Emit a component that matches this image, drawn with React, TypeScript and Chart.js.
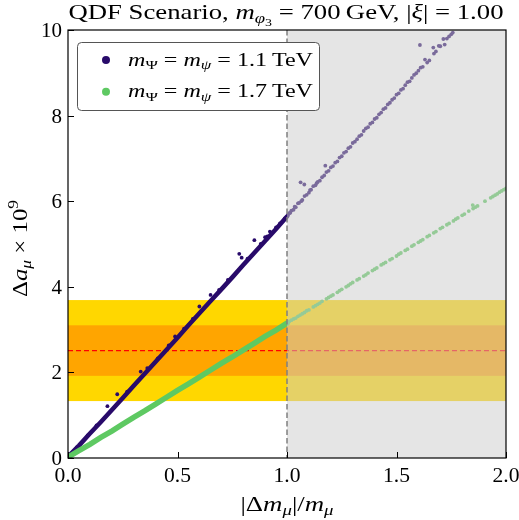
import { useEffect, useRef } from "react";
import { Chart, registerables } from "chart.js";

Chart.register(...registerables);

// Axis ticks
const xTicks = [0, 0.5, 1, 1.5, 2];
const xTickLabels = ["0.0", "0.5", "1.0", "1.5", "2.0"];
const yTicks = [0, 2, 4, 6, 8, 10];
const yTickLabels = ["0", "2", "4", "6", "8", "10"];

// Measured anomaly band (x 10^9) and excluded region start
const deltaCentral = 2.51;
const delta1Sigma = 0.59;
const delta2Sigma = 1.18;
const excludedFrom = 1.0;

// m_Psi = m_psi = 1.1 TeV: dense core for |dm|/m < 1
const purpleCore: [number, number][] = [
  [0.0, 0.03], [0.05, 0.29], [0.1, 0.57], [0.15, 0.84], [0.2, 1.12], [0.25, 1.4],
  [0.3, 1.69], [0.35, 1.97], [0.4, 2.25], [0.45, 2.53], [0.5, 2.81], [0.55, 3.1],
  [0.6, 3.38], [0.65, 3.66], [0.7, 3.94], [0.75, 4.22], [0.8, 4.51], [0.85, 4.79],
  [0.9, 5.07], [0.95, 5.35], [1.0, 5.64],
];

// m_Psi = m_psi = 1.1 TeV: scattered points below |dm|/m = 1
const purpleLow: [number, number][] = [
  [0.04, 0.25], [0.09, 0.53], [0.13, 0.76], [0.18, 1.21], [0.225, 1.49], [0.27, 1.55],
  [0.332, 2.02], [0.362, 2.1], [0.41, 2.33], [0.46, 2.63], [0.489, 2.84], [0.53, 3.02],
  [0.57, 3.25], [0.6, 3.54], [0.651, 3.81], [0.69, 3.93], [0.73, 4.16], [0.782, 4.77],
  [0.793, 4.68], [0.82, 4.66], [0.851, 5.09], [0.88, 5.0], [0.9, 5.16], [0.91, 5.18],
  [0.922, 5.29], [0.95, 5.39], [0.968, 5.48], [0.99, 5.6],
];

// m_Psi = m_psi = 1.1 TeV: points above |dm|/m = 1
const purpleHigh: [number, number][] = [
  [1.005, 5.68], [1.01, 5.72], [1.015, 5.73], [1.02, 5.78], [1.03, 5.8], [1.035, 5.87],
  [1.04, 5.86], [1.05, 5.95], [1.055, 5.96], [1.062, 6.44], [1.065, 6.0], [1.07, 6.03],
  [1.079, 6.39], [1.08, 6.12], [1.09, 6.15], [1.1, 6.2], [1.105, 6.26], [1.11, 6.27],
  [1.12, 6.35], [1.13, 6.37], [1.135, 6.42], [1.14, 6.45], [1.15, 6.48], [1.16, 6.56],
  [1.17, 6.6], [1.175, 6.83], [1.18, 6.68], [1.19, 6.71], [1.2, 6.79], [1.21, 6.82],
  [1.22, 6.9], [1.23, 6.93], [1.24, 7.02], [1.25, 7.05], [1.26, 7.13], [1.27, 7.16],
  [1.28, 7.24], [1.29, 7.27], [1.3, 7.36], [1.31, 7.39], [1.32, 7.45], [1.33, 7.52],
  [1.34, 7.55], [1.35, 7.64], [1.36, 7.7], [1.37, 7.73], [1.38, 7.81], [1.39, 7.84],
  [1.4, 7.92], [1.41, 7.95], [1.42, 8.03], [1.43, 8.07], [1.44, 8.15], [1.45, 8.18],
  [1.46, 8.26], [1.47, 8.3], [1.48, 8.37], [1.49, 8.41], [1.5, 8.49], [1.51, 8.52],
  [1.52, 8.6], [1.53, 8.63], [1.54, 8.71], [1.55, 8.78], [1.56, 8.8], [1.57, 8.88],
  [1.58, 8.95], [1.59, 8.99], [1.6, 9.05], [1.607, 9.65], [1.61, 9.12], [1.62, 9.14],
  [1.63, 9.31], [1.64, 9.24], [1.65, 9.29], [1.668, 9.59], [1.671, 9.45], [1.68, 9.5],
  [1.693, 9.63], [1.7, 9.62], [1.714, 9.79], [1.72, 9.66], [1.73, 9.8], [1.74, 9.85],
  [1.75, 9.9], [1.757, 9.94],
];

// m_Psi = m_psi = 1.7 TeV: dense core for |dm|/m < 1
const greenCore: [number, number][] = [
  [0.0, 0.02], [0.05, 0.17], [0.1, 0.32], [0.15, 0.48], [0.2, 0.63], [0.25, 0.79],
  [0.3, 0.95], [0.35, 1.1], [0.4, 1.26], [0.45, 1.42], [0.5, 1.58], [0.55, 1.73],
  [0.6, 1.89], [0.65, 2.05], [0.7, 2.21], [0.75, 2.36], [0.8, 2.52], [0.85, 2.68],
  [0.9, 2.84], [0.95, 2.99], [1.0, 3.15],
];

// m_Psi = m_psi = 1.7 TeV: points above |dm|/m = 1
const greenHigh: [number, number][] = [
  [1.01, 3.19], [1.02, 3.22], [1.03, 3.25], [1.04, 3.27], [1.05, 3.31], [1.06, 3.34],
  [1.07, 3.37], [1.08, 3.4], [1.09, 3.44], [1.1, 3.46], [1.12, 3.53], [1.13, 3.56],
  [1.14, 3.59], [1.15, 3.62], [1.16, 3.66], [1.18, 3.72], [1.19, 3.75], [1.2, 3.78],
  [1.21, 3.81], [1.23, 3.87], [1.24, 3.91], [1.25, 3.94], [1.27, 4.0], [1.28, 4.03],
  [1.29, 4.07], [1.3, 4.1], [1.32, 4.16], [1.33, 4.19], [1.35, 4.25], [1.36, 4.28],
  [1.37, 4.32], [1.39, 4.38], [1.4, 4.41], [1.41, 4.44], [1.43, 4.51], [1.44, 4.54],
  [1.45, 4.57], [1.47, 4.63], [1.48, 4.66], [1.5, 4.72], [1.51, 4.76], [1.52, 4.79],
  [1.54, 4.85], [1.55, 4.88], [1.57, 4.95], [1.58, 4.98], [1.6, 5.04], [1.61, 5.07],
  [1.62, 5.1], [1.64, 5.17], [1.65, 5.2], [1.67, 5.26], [1.68, 5.29], [1.7, 5.36],
  [1.71, 5.39], [1.73, 5.45], [1.74, 5.48], [1.76, 5.54], [1.77, 5.58], [1.78, 5.61],
  [1.8, 5.67], [1.81, 5.7], [1.83, 5.77], [1.848, 5.91], [1.85, 5.83], [1.86, 5.86],
  [1.87, 5.89], [1.904, 6.0], [1.93, 6.08], [1.94, 6.11], [1.95, 6.14], [1.96, 6.17],
  [1.97, 6.21], [1.98, 6.24], [1.99, 6.27], [2.0, 6.3],
];

const PURPLE = "#280a6a";
const GREEN = "#5ec962";
const FAMILY = "'Liberation Serif', 'DejaVu Serif', serif";

type Run = { t: string; it?: boolean; lv?: number };

function runSize(r: Run, size: number) {
  if (r.lv === 1 || r.lv === -1) return size * 0.7;
  if (r.lv === 2) return size * 0.52;
  return size;
}
function runDy(r: Run, size: number) {
  if (r.lv === 1) return size * 0.2;
  if (r.lv === 2) return size * 0.34;
  if (r.lv === -1) return -size * 0.42;
  return 0;
}
function setFont(ctx: CanvasRenderingContext2D, r: Run, size: number) {
  ctx.font = `${r.it ? "italic " : ""}${runSize(r, size)}px ${FAMILY}`;
}
function richWidth(ctx: CanvasRenderingContext2D, runs: Run[], size: number) {
  let w = 0;
  for (const r of runs) {
    setFont(ctx, r, size);
    w += ctx.measureText(r.t).width;
  }
  return w;
}
// Draws mixed roman/italic/sub/superscript text, optionally set to a given width
function drawRich(
  ctx: CanvasRenderingContext2D,
  runs: Run[],
  x: number,
  y: number,
  size: number,
  align: "left" | "center" | "right",
  width?: number
) {
  const natural = richWidth(ctx, runs, size);
  const w = width ?? natural;
  const sx = w / natural;
  const start = align === "center" ? x - w / 2 : align === "right" ? x - w : x;
  ctx.save();
  ctx.translate(start, y);
  ctx.scale(sx, 1);
  ctx.textAlign = "left";
  ctx.textBaseline = "alphabetic";
  let cx = 0;
  for (const r of runs) {
    setFont(ctx, r, size);
    ctx.fillText(r.t, cx, runDy(r, size));
    cx += ctx.measureText(r.t).width;
  }
  ctx.restore();
}

const titleRuns: Run[] = [
  { t: "QDF Scenario, " },
  { t: "m", it: true },
  { t: "φ", it: true, lv: 1 },
  { t: "3", lv: 2 },
  { t: " = 700\u2009GeV, " },
  { t: "|" },
  { t: "ξ", it: true },
  { t: "| = 1.00" },
];
const legendRuns = (mass: string): Run[] => [
  { t: "m", it: true },
  { t: "Ψ", lv: 1 },
  { t: " = " },
  { t: "m", it: true },
  { t: "ψ", it: true, lv: 1 },
  { t: ` = ${mass}\u2009TeV` },
];
const legendMasses = ["1.1", "1.7"];
const legendColors = [PURPLE, GREEN];
const xLabelRuns: Run[] = [
  { t: "|Δ" },
  { t: "m", it: true },
  { t: "μ", it: true, lv: 1 },
  { t: "|/" },
  { t: "m", it: true },
  { t: "μ", it: true, lv: 1 },
];
const yLabelRuns: Run[] = [
  { t: "Δ" },
  { t: "a", it: true },
  { t: "μ", it: true, lv: 1 },
  { t: " × 10" },
  { t: "9", lv: -1 },
];

const decor = {
  id: "decor",
  beforeDatasetsDraw(chart: any) {
    const { ctx, chartArea: a, scales } = chart;
    const y = scales.y;
    ctx.save();
    ctx.fillStyle = "#ffd700";
    const y2t = y.getPixelForValue(deltaCentral + delta2Sigma);
    const y2b = y.getPixelForValue(deltaCentral - delta2Sigma);
    ctx.fillRect(a.left, y2t, a.right - a.left, y2b - y2t);
    ctx.fillStyle = "#ffa500";
    const y1t = y.getPixelForValue(deltaCentral + delta1Sigma);
    const y1b = y.getPixelForValue(deltaCentral - delta1Sigma);
    ctx.fillRect(a.left, y1t, a.right - a.left, y1b - y1t);
    const yc = y.getPixelForValue(deltaCentral);
    ctx.strokeStyle = "#ff0000";
    ctx.lineWidth = 1.2;
    ctx.setLineDash([5, 3]);
    ctx.beginPath();
    ctx.moveTo(a.left, yc);
    ctx.lineTo(a.right, yc);
    ctx.stroke();
    ctx.restore();
  },
  afterDatasetsDraw(chart: any) {
    const { ctx, chartArea: a, scales } = chart;
    const xs = scales.x;
    const ys = scales.y;
    ctx.save();
    // excluded region shading
    const xe = xs.getPixelForValue(excludedFrom);
    ctx.fillStyle = "rgba(204,204,204,0.5)";
    ctx.fillRect(xe, a.top, a.right - xe, a.bottom - a.top);
    ctx.strokeStyle = "#808080";
    ctx.lineWidth = 1.5;
    ctx.setLineDash([5.5, 3]);
    ctx.beginPath();
    ctx.moveTo(xe, a.top);
    ctx.lineTo(xe, a.bottom);
    ctx.stroke();
    ctx.setLineDash([]);

    // frame and inward ticks
    ctx.strokeStyle = "#000";
    ctx.lineWidth = 1.2;
    ctx.strokeRect(a.left, a.top, a.right - a.left, a.bottom - a.top);
    ctx.lineWidth = 1;
    ctx.beginPath();
    for (const v of xTicks) {
      const px = Math.round(xs.getPixelForValue(v)) + 0.5;
      ctx.moveTo(px, a.bottom);
      ctx.lineTo(px, a.bottom - 6);
    }
    for (const v of yTicks) {
      const py = Math.round(ys.getPixelForValue(v)) + 0.5;
      ctx.moveTo(a.left, py);
      ctx.lineTo(a.left + 6, py);
    }
    ctx.stroke();

    // tick labels
    ctx.fillStyle = "#000";
    ctx.font = `20px ${FAMILY}`;
    ctx.textBaseline = "alphabetic";
    ctx.textAlign = "center";
    xTicks.forEach((v, i) => {
      drawRich(ctx, [{ t: xTickLabels[i] }], xs.getPixelForValue(v), a.bottom + 24, 20, "center", 27);
    });
    yTicks.forEach((v, i) => {
      const lbl = yTickLabels[i];
      drawRich(ctx, [{ t: lbl }], a.left - 6, ys.getPixelForValue(v) + 7, 20, "right", lbl.length * 10.5);
    });

    // axis titles
    drawRich(ctx, xLabelRuns, (a.left + a.right) / 2, 511, 20, "center", 93);
    ctx.save();
    ctx.translate(26.5, 248.5);
    ctx.rotate(-Math.PI / 2);
    drawRich(ctx, yLabelRuns, 0, 0, 20, "center", 97);
    ctx.restore();

    // title
    drawRich(ctx, titleRuns, 286, 19, 21, "center", 435);

    // legend
    const lx = a.left + 9;
    const ly = a.top + 12;
    const lw = 242;
    const lh = 68;
    ctx.beginPath();
    ctx.roundRect(lx + 0.5, ly + 0.5, lw, lh, 4);
    ctx.fillStyle = "#fff";
    ctx.fill();
    ctx.strokeStyle = "#555";
    ctx.lineWidth = 1;
    ctx.stroke();
    legendMasses.forEach((m, i) => {
      const cy = ly + 18 + i * 31.7;
      ctx.beginPath();
      ctx.arc(lx + 29, cy, 4, 0, Math.PI * 2);
      ctx.fillStyle = legendColors[i];
      ctx.fill();
      ctx.fillStyle = "#000";
      drawRich(ctx, legendRuns(m), lx + 51, cy + 5.5, 18, "left", 185);
    });
    ctx.restore();
  },
};

const toXY = (pts: [number, number][]) => pts.map(([x, y]) => ({ x, y }));

export default function App() {
  const ref = useRef<HTMLCanvasElement | null>(null);
  useEffect(() => {
    if (!ref.current) return;
    const chart = new Chart(ref.current, {
      type: "scatter",
      data: {
        datasets: [
          {
            data: toXY(greenCore),
            showLine: true,
            borderColor: GREEN,
            borderWidth: 5.5,
            borderCapStyle: "round",
            pointRadius: 0,
            order: 0,
          },
          {
            data: toXY(greenHigh),
            backgroundColor: GREEN,
            borderWidth: 0,
            pointRadius: 1.9,
            order: 1,
          },
          {
            data: toXY(purpleCore),
            showLine: true,
            borderColor: PURPLE,
            borderWidth: 4.5,
            borderCapStyle: "round",
            pointRadius: 0,
            order: 2,
          },
          {
            data: toXY(purpleLow),
            backgroundColor: PURPLE,
            borderWidth: 0,
            pointRadius: 1.9,
            order: 3,
          },
          {
            data: toXY(purpleHigh),
            backgroundColor: PURPLE,
            borderWidth: 0,
            pointRadius: 1.9,
            order: 4,
          },
        ] as any,
      },
      options: {
        animation: false,
        responsive: false,
        events: [],
        layout: { padding: { left: 68, top: 30, right: 13, bottom: 62 } },
        plugins: {
          legend: { display: false },
          title: { display: false },
          tooltip: { enabled: false },
        },
        scales: {
          x: { type: "linear", min: 0, max: 2, display: false },
          y: { type: "linear", min: 0, max: 10, display: false },
        },
      },
      plugins: [decor],
    });
    return () => chart.destroy();
  }, []);
  return (
    <div style={{ position: "absolute", left: 0, top: 0, width: 519, height: 520 }}>
      <canvas ref={ref} width={519} height={520} style={{ display: "block" }} />
    </div>
  );
}
